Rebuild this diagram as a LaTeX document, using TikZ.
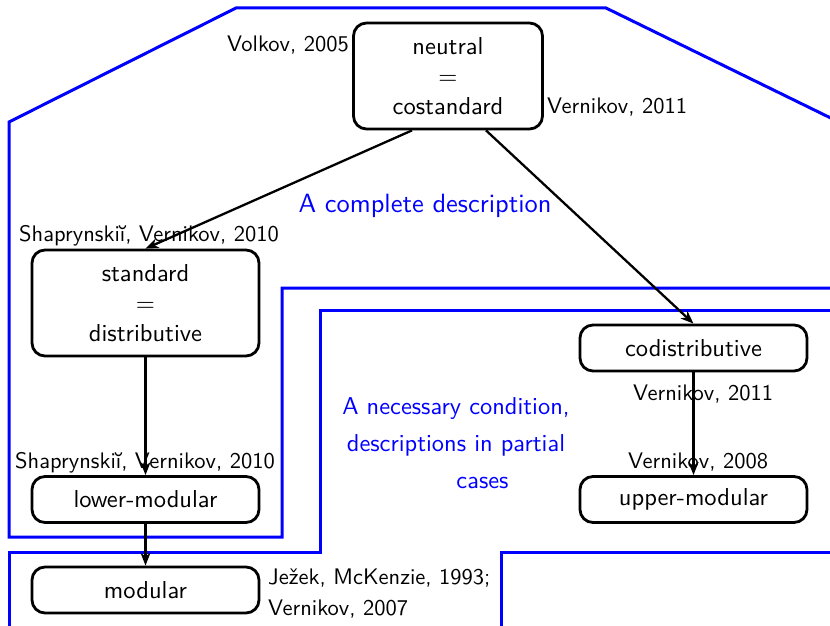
\documentclass[tikz,border=0pt]{standalone}
\usepackage{fontspec}
\setsansfont{lmsans10-regular.otf}
\usetikzlibrary{arrows.meta}
\newcommand\dgmain{\sffamily\fontsize{24.5}{30}\selectfont}
\newcommand\dglabel{\sffamily\fontsize{22.5}{31}\selectfont}
\newcommand\dgbig{\sffamily\fontsize{26.4}{32}\selectfont}
\newcommand\dgnote{\sffamily\fontsize{24.4}{37}\selectfont}
\begin{document}
\begin{tikzpicture}[x=1pt,y=-1pt,
  box/.style={draw, line width=2.8pt, rounded corners=13pt, align=center,
    font=\dgmain, inner sep=0pt, minimum width=227pt, minimum height=46pt},
  arr/.style={line width=2.3pt, -{Stealth[length=13pt,width=10pt,inset=4pt]}},
  region/.style={draw=blue, line width=3pt},
  ref/.style={font=\dglabel, inner sep=0pt},
  note/.style={text=blue, inner sep=0pt}]
\useasboundingbox (0,0) rectangle (830,626);
\clip (0,0) rectangle (830,626);

% regions of the classification
\draw[region] (845,125) -- (606,8) -- (236,8) -- (9,122) -- (9,537)
  -- (282,537) -- (282,288) -- (845,288);
\draw[region] (845,310) -- (320,310) -- (320,552) -- (9,552) -- (9,640);
\draw[region] (501,640) -- (501,552) -- (845,552);

% classes of elements
\node[box, minimum width=189pt, minimum height=106pt] (neutral) at (448,76)
  {neutral\\=\\costandard};
\node[box, minimum height=106pt] (standard) at (145.5,303)
  {standard\\=\\distributive};
\node[box] (lowermod) at (145.5,499.5) {lower-modular};
\node[box] (modular) at (145.5,590) {modular};
\node[box] (codist) at (693.5,348) {codistributive};
\node[box] (uppermod) at (693.5,499.5) {upper-modular};

% implications
\draw[arr] ([xshift=-36pt]neutral.south) -- (standard.north);
\draw[arr] ([xshift=38pt]neutral.south) -- (codist.north);
\draw[arr] (standard.south) -- (lowermod.north);
\draw[arr] (lowermod.south) -- (modular.north);
\draw[arr] (codist.south) -- (uppermod.north);

% references
\node[ref, anchor=base east] (r1) at (349,52) {Volkov, 2005};
\node[ref, anchor=base west] (r2) at (547,113) {Vernikov, 2011};
\node[ref, anchor=base west] (r3) at (19,241) {Shaprynski\u{\i}, Vernikov, 2010};
\node[ref, anchor=base west] (r4) at (15,468) {Shaprynski\u{\i}, Vernikov, 2010};
\node[ref, anchor=base west] (r5) at (633,400) {Vernikov, 2011};
\node[ref, anchor=base west] (r6) at (628,468) {Vernikov, 2008};
\node[ref, anchor=west, align=left] (r7) at (268,594)
  {Je\v{z}ek, McKenzie, 1993;\\Vernikov, 2007};

% region captions
\node[note, font=\dgbig, anchor=base] (n1) at (425,212) {A complete description};
\node[note, font=\dgnote, align=center] (n2) at (456,443)
  {A necessary condition,\\descriptions in partial\\\hspace*{53pt}cases};
\end{tikzpicture}
\end{document}
